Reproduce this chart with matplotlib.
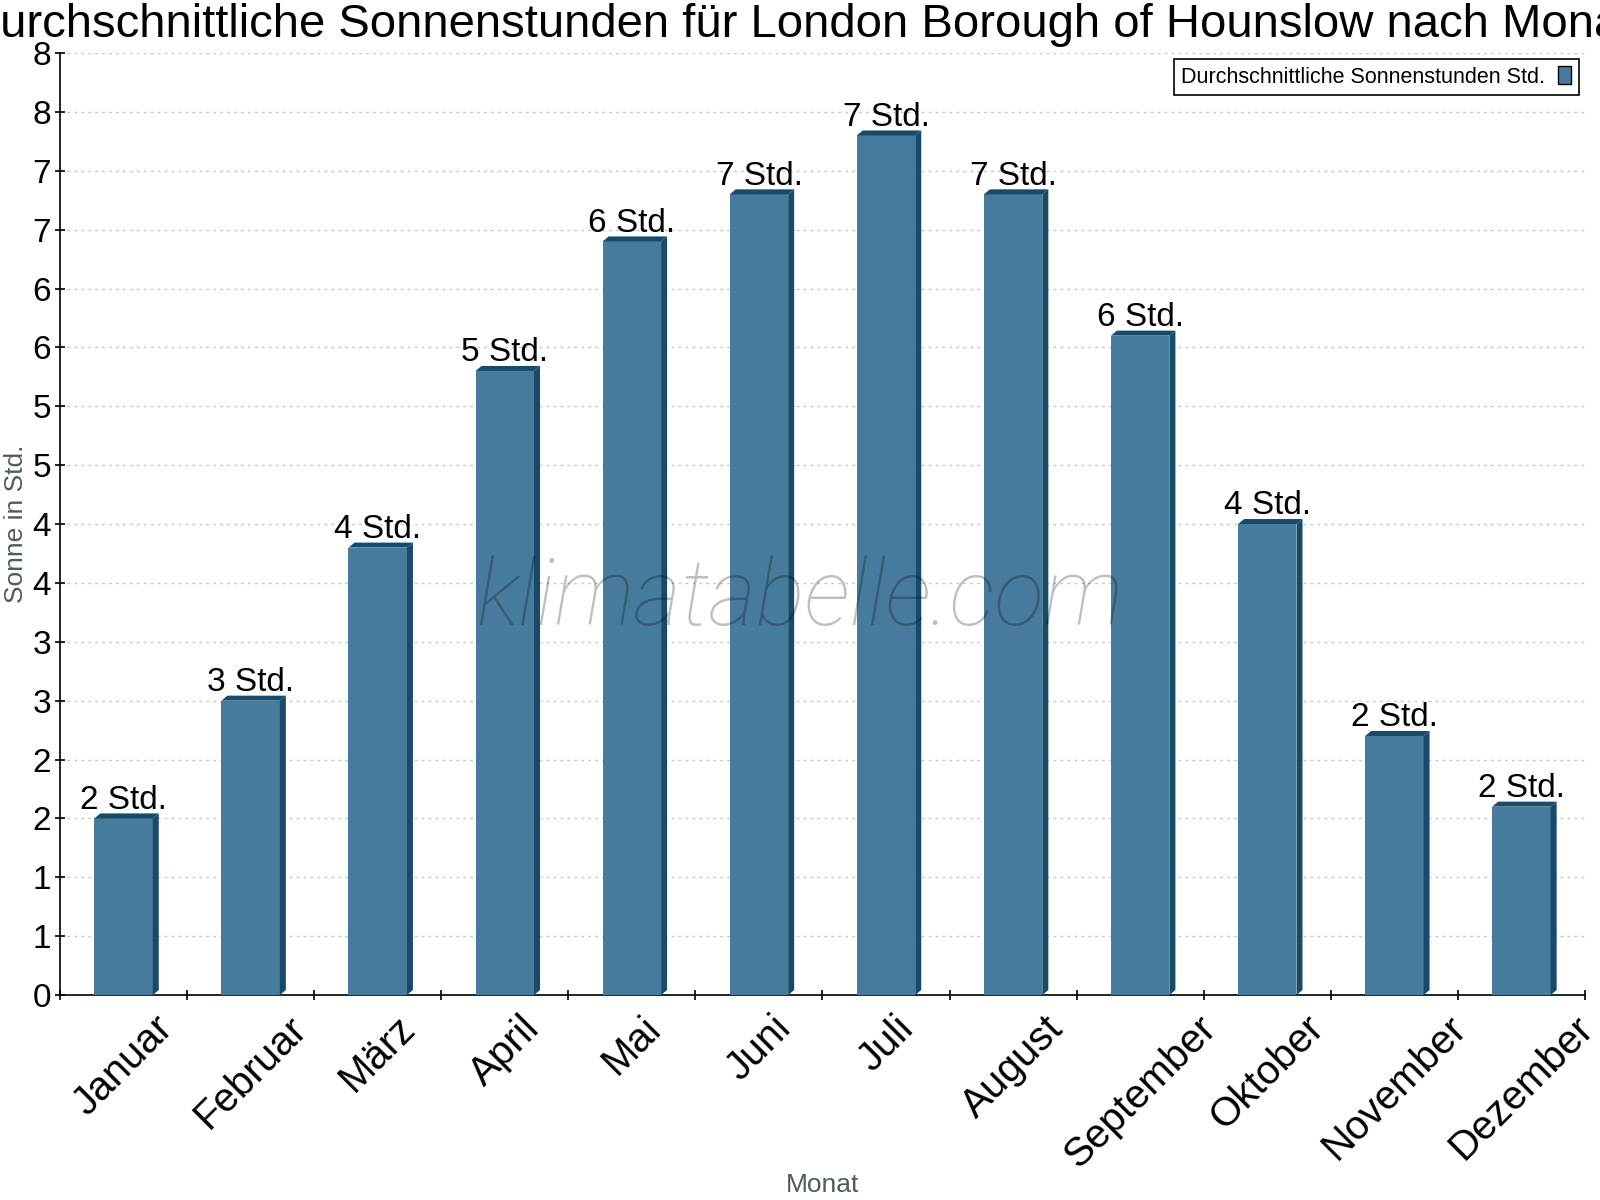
import numpy as np
import matplotlib
matplotlib.use('Agg')
import matplotlib.pyplot as plt
from matplotlib.patches import Patch, Polygon
from matplotlib.ticker import FuncFormatter

months = ['Januar', 'Februar', 'März', 'April', 'Mai', 'Juni', 'Juli',
          'August', 'September', 'Oktober', 'November', 'Dezember']
sun_hours = [1.5, 2.5, 3.8, 5.3, 6.4, 6.8, 7.3, 6.8, 5.6, 4.0, 2.2, 1.6]

title = 'Durchschnittliche Sonnenstunden für London Borough of Hounslow nach Monat'
series_name = 'Durchschnittliche Sonnenstunden Std.'
unit = 'Std.'

face_color = '#467b9d'
dark_color = '#184a6a'
label_gray = '#505a64'

plt.rcParams['font.family'] = ['Liberation Sans', 'DejaVu Sans']

fig = plt.figure(figsize=(16, 12), dpi=100)
ax = fig.add_axes([0.0375, 0.1708, 0.9531, 0.785])

x = np.arange(len(months))
bar_width = 0.46
ax.set_xlim(-0.5, len(months) - 0.5)
ax.set_ylim(0, 8)

# 3d look: depth offset in pixels turned into data units
ax_w = 0.9531 * 1600
ax_h = 0.785 * 1200
depth_x = 6 / (ax_w / len(months))
depth_y = 5 / (ax_h / 8)

ax.bar(x, sun_hours, width=bar_width, color=face_color, zorder=3)
for xi, h in zip(x, sun_hours):
    x0 = xi - bar_width / 2
    x1 = xi + bar_width / 2
    side = Polygon([(x1, 0), (x1, h), (x1 + depth_x, h + depth_y), (x1 + depth_x, depth_y)],
                   closed=True, facecolor=dark_color, edgecolor='none', zorder=3)
    top = Polygon([(x0, h), (x1, h), (x1 + depth_x, h + depth_y), (x0 + depth_x, h + depth_y)],
                  closed=True, facecolor=dark_color, edgecolor='none', zorder=3)
    ax.add_patch(side)
    ax.add_patch(top)
    ax.annotate(f'{int(np.floor(h + 0.5))} {unit}', (xi, h), xytext=(0, 7),
                textcoords='offset points', ha='center', va='baseline',
                fontsize=24, color='black', zorder=5)

# axes styling
ax.spines['top'].set_visible(False)
ax.spines['right'].set_visible(False)
ax.spines['left'].set_linewidth(1.2)
ax.spines['bottom'].set_linewidth(1.2)

ax.set_yticks(np.arange(0, 8.01, 0.5))
ax.yaxis.set_major_formatter(FuncFormatter(lambda v, pos: str(int(np.floor(v + 0.5)))))
ax.tick_params(axis='y', direction='inout', length=7, width=1.2, labelsize=24, pad=3)

ax.set_xticks(x)
ax.set_xticklabels(months, rotation=45, ha='center', fontsize=29)
ax.set_xticks(np.arange(-0.5, len(months), 1.0), minor=True)
ax.tick_params(axis='x', which='major', length=0, pad=10)
ax.tick_params(axis='x', which='minor', direction='inout', length=7, width=1.2)

ax.grid(axis='y', color='#c8c8c8', linestyle=(0, (2, 3)), linewidth=1, zorder=0)
ax.set_axisbelow(True)

ax.set_xlabel('Monat', fontsize=19, color=label_gray)
ax.xaxis.set_label_coords(0.5, -0.189)
ax.set_ylabel('Sonne in Std.', fontsize=19, color=label_gray)
ax.yaxis.set_label_coords(-0.021, 0.5)

handle = Patch(facecolor=face_color, edgecolor='black', linewidth=1)
leg = ax.legend([handle], [series_name], loc='upper right', bbox_to_anchor=(0.996, 0.994),
                borderaxespad=0, fontsize=15.5, markerfirst=False, fancybox=False,
                framealpha=1, edgecolor='black', handlelength=0.6, handleheight=0.9,
                handletextpad=0.6, borderpad=0.35)
leg.get_frame().set_linewidth(1.2)

fig.text(0.5, 0.969, title, ha='center', va='baseline', fontsize=34, color='black')

fig.text(0.5, 0.5, 'klimatabelle.com', ha='center', va='center', fontsize=66,
         family=['Roboto', 'DejaVu Sans'], fontweight='light', style='italic',
         color='black', alpha=0.25, zorder=10)

fig.savefig('out.png', dpi=100)
